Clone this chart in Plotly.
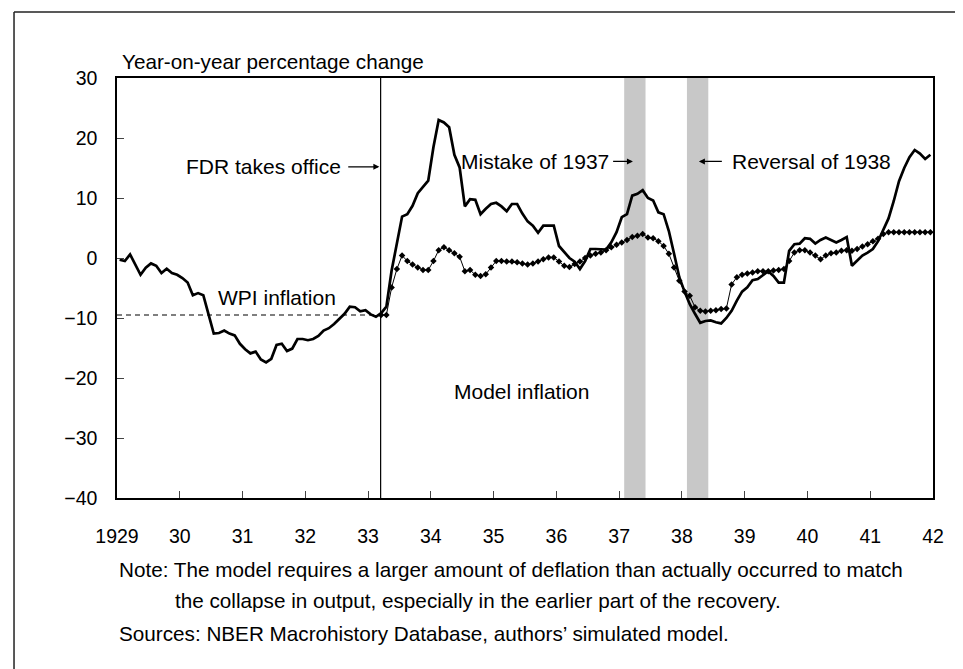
import numpy as np
import plotly.graph_objects as go

# WPI inflation, monthly, Jan 1929 - Dec 1941 (year-on-year % change)
wpi_1929 = [-0.3, -0.5, 0.6, -1.2, -2.8, -1.6, -0.9, -1.3, -2.5, -1.8, -2.5, -2.8]
wpi_1930 = [-3.35, -4.1, -6.2, -5.85, -6.2, -9.4, -12.6, -12.5, -12.1, -12.6, -12.9, -14.3]
wpi_1931 = [-15.2, -15.9, -15.6, -16.9, -17.4, -16.8, -14.5, -14.3, -15.5, -15.1, -13.5, -13.5]
wpi_1932 = [-13.7, -13.5, -13.0, -12.1, -11.7, -11.0, -10.1, -9.3, -8.1, -8.2, -8.9, -8.7]
wpi_1933 = [-9.4, -9.8, -9.2, -8.1, -2.1, 2.3, 6.9, 7.3, 8.7, 10.8, 11.8, 12.9]
wpi_1934 = [18.5, 23.0, 22.6, 21.8, 17.2, 15.1, 8.6, 9.8, 9.7, 7.3, 8.2, 9.0]
wpi_1935 = [9.2, 8.6, 7.8, 9.0, 9.0, 7.4, 6.1, 5.4, 4.2, 5.4, 5.4, 5.4]
wpi_1936 = [2.0, 1.0, 0.0, -0.6, -1.85, -0.5, 1.5, 1.5, 1.4, 1.4, 2.6, 4.3]
wpi_1937 = [6.8, 7.3, 10.4, 10.7, 11.3, 10.0, 9.6, 7.6, 7.3, 4.5, 0.7, -3.2]
wpi_1938 = [-5.6, -7.7, -9.3, -10.8, -10.5, -10.4, -10.7, -10.9, -10.0, -8.8, -7.1, -5.6]
wpi_1939 = [-4.9, -3.7, -3.5, -2.8, -2.2, -3.0, -4.1, -4.1, 1.2, 2.3, 2.4, 3.3]
wpi_1940 = [3.2, 2.4, 3.0, 3.4, 3.0, 2.6, 3.0, 3.5, -1.3, -0.5, 0.4, 0.9]
wpi_1941 = [1.5, 2.8, 4.6, 6.6, 9.5, 12.8, 15.0, 16.8, 18.0, 17.4, 16.5, 17.2]

# model inflation, monthly, Mar 1933 - Dec 1941
model_1933 = [-9.5, -9.5, -4.9, -1.85, 0.4, -0.5, -1.1, -1.6, -2.0, -2.0]
model_1934 = [-0.5, 1.3, 1.8, 1.3, 0.8, 0.2, -2.2, -2.0, -2.8, -3.0, -2.7, -1.6]
model_1935 = [-0.5, -0.5, -0.6, -0.6, -0.7, -0.9, -1.1, -0.9, -0.6, -0.2, 0.1, 0.1]
model_1936 = [-0.6, -1.3, -1.5, -1.0, -0.6, 0.0, 0.4, 0.7, 0.9, 1.3, 1.8, 2.2]
model_1937 = [2.6, 3.0, 3.5, 3.7, 4.0, 3.4, 3.3, 2.8, 2.0, 0.7, -1.6, -3.8]
model_1938 = [-5.6, -6.3, -8.2, -8.8, -8.9, -8.8, -8.7, -8.5, -8.4, -4.4, -3.2, -2.8]
model_1939 = [-2.6, -2.4, -2.2, -2.2, -2.2, -2.1, -2.0, -1.85, -0.5, 0.9, 1.3, 1.3]
model_1940 = [0.9, 0.4, -0.2, 0.4, 0.8, 0.9, 1.2, 1.3, 1.2, 1.5, 1.9, 2.3]
model_1941 = [2.8, 3.2, 4.0, 4.3, 4.3, 4.3, 4.3, 4.3, 4.3, 4.3, 4.3, 4.3]

# pre-1933 reference level (dashed)
dash_x = [1929.0, 1933.21]
dash_y = [-9.5, -9.5]

fdr_date = 1933.2
shade_periods = [(1937.08, 1937.42), (1938.08, 1938.42)]

year_ticks = list(range(1929, 1943))
year_labels = ['1929'] + [str(y)[2:] for y in year_ticks[1:]]

wpi = (wpi_1929 + wpi_1930 + wpi_1931 + wpi_1932 + wpi_1933 + wpi_1934 + wpi_1935
       + wpi_1936 + wpi_1937 + wpi_1938 + wpi_1939 + wpi_1940 + wpi_1941)
model = (model_1933 + model_1934 + model_1935 + model_1936 + model_1937
         + model_1938 + model_1939 + model_1940 + model_1941)

wpi_x = 1929 + (np.arange(len(wpi)) + 0.5) / 12
model_x = 1933 + (np.arange(len(model)) + 2.5) / 12

FONT = 'Liberation Sans, Arial, Helvetica, sans-serif'

fig = go.Figure()

fig.add_trace(go.Scatter(x=dash_x, y=dash_y, mode='lines',
                         line=dict(color='black', width=1.2, dash='5px,4px')))
fig.add_trace(go.Scatter(x=model_x, y=model, mode='lines+markers',
                         line=dict(color='black', width=1),
                         marker=dict(symbol='diamond', size=5, color='black')))
fig.add_trace(go.Scatter(x=wpi_x, y=wpi, mode='lines',
                         line=dict(color='black', width=2.7)))

shapes = []
for a, b in shade_periods:
    shapes.append(dict(type='rect', xref='x', yref='paper', x0=a, x1=b, y0=0, y1=1,
                       fillcolor='#c8c8c8', line=dict(width=0), layer='below'))
shapes.append(dict(type='line', xref='x', yref='paper', x0=fdr_date, x1=fdr_date,
                   y0=0, y1=1, line=dict(color='black', width=1.2)))
# outer page frame (top and left edges)
shapes.append(dict(type='line', xref='paper', yref='paper', x0=-0.1262, x1=-0.1262,
                   y0=-0.45, y1=1.157, line=dict(color='#222', width=1.5)))
shapes.append(dict(type='line', xref='paper', yref='paper', x0=-0.1262, x1=1.1,
                   y0=1.157, y1=1.157, line=dict(color='#222', width=1.5)))

txt = dict(family=FONT, size=21, color='black')
note = dict(family=FONT, size=20.7, color='black')
ann = [
    dict(x=1932.6, y=15.2, xref='x', yref='y', text='FDR takes office', showarrow=False,
         xanchor='right', yanchor='middle', font=txt),
    dict(x=1933.18, y=15.2, ax=1932.66, ay=15.2, xref='x', yref='y', axref='x', ayref='y',
         text='', showarrow=True, arrowhead=2, arrowsize=1, arrowwidth=1.2, arrowcolor='black'),
    dict(x=1936.87, y=16.1, xref='x', yref='y', text='Mistake of 1937', showarrow=False,
         xanchor='right', yanchor='middle', font=txt),
    dict(x=1937.22, y=16.1, ax=1936.88, ay=16.1, xref='x', yref='y', axref='x', ayref='y',
         text='', showarrow=True, arrowhead=2, arrowsize=1, arrowwidth=1.2, arrowcolor='black'),
    dict(x=1938.76, y=16.1, xref='x', yref='y', text='Reversal of 1938', showarrow=False,
         xanchor='left', yanchor='middle', font=txt),
    dict(x=1938.27, y=16.1, ax=1938.66, ay=16.1, xref='x', yref='y', axref='x', ayref='y',
         text='', showarrow=True, arrowhead=2, arrowsize=1, arrowwidth=1.2, arrowcolor='black'),
    dict(x=1931.55, y=-6.6, xref='x', yref='y', text='WPI inflation', showarrow=False,
         font=txt),
    dict(x=1935.45, y=-22.3, xref='x', yref='y', text='Model inflation', showarrow=False,
         font=txt),
    dict(x=0.004, y=1.04, xref='paper', yref='paper', text='Year-on-year percentage change',
         showarrow=False, xanchor='left', yanchor='middle', font=note),
    dict(x=0.0, y=-0.171, xref='paper', yref='paper',
         text='Note: The model requires a larger amount of deflation than actually occurred to match',
         showarrow=False, xanchor='left', yanchor='middle', font=note),
    dict(x=0.0686, y=-0.243, xref='paper', yref='paper',
         text='the collapse in output, especially in the earlier part of the recovery.',
         showarrow=False, xanchor='left', yanchor='middle', font=note),
    dict(x=0.0, y=-0.3238, xref='paper', yref='paper',
         text='Sources: NBER Macrohistory Database, authors\u2019 simulated model.',
         showarrow=False, xanchor='left', yanchor='middle', font=note),
]

axis_common = dict(showgrid=False, zeroline=False, showline=True, linecolor='black',
                   linewidth=1.5, mirror=True, ticks='inside', ticklen=7, tickwidth=1,
                   tickcolor='#444', tickfont=dict(family=FONT, size=19.5, color='black'))

fig.update_layout(
    width=963, height=669,
    margin=dict(l=109, r=38, t=70, b=179, pad=0),
    paper_bgcolor='white', plot_bgcolor='white',
    showlegend=False,
    xaxis=dict(range=[1929, 1942], tickvals=year_ticks, ticktext=year_labels,
               ticklabelstandoff=20, **axis_common),
    yaxis=dict(range=[-40, 30], tickvals=list(range(-40, 31, 10)),
               ticklabelstandoff=14, **axis_common),
    shapes=shapes,
    annotations=ann,
)

fig.write_html("out.html")
